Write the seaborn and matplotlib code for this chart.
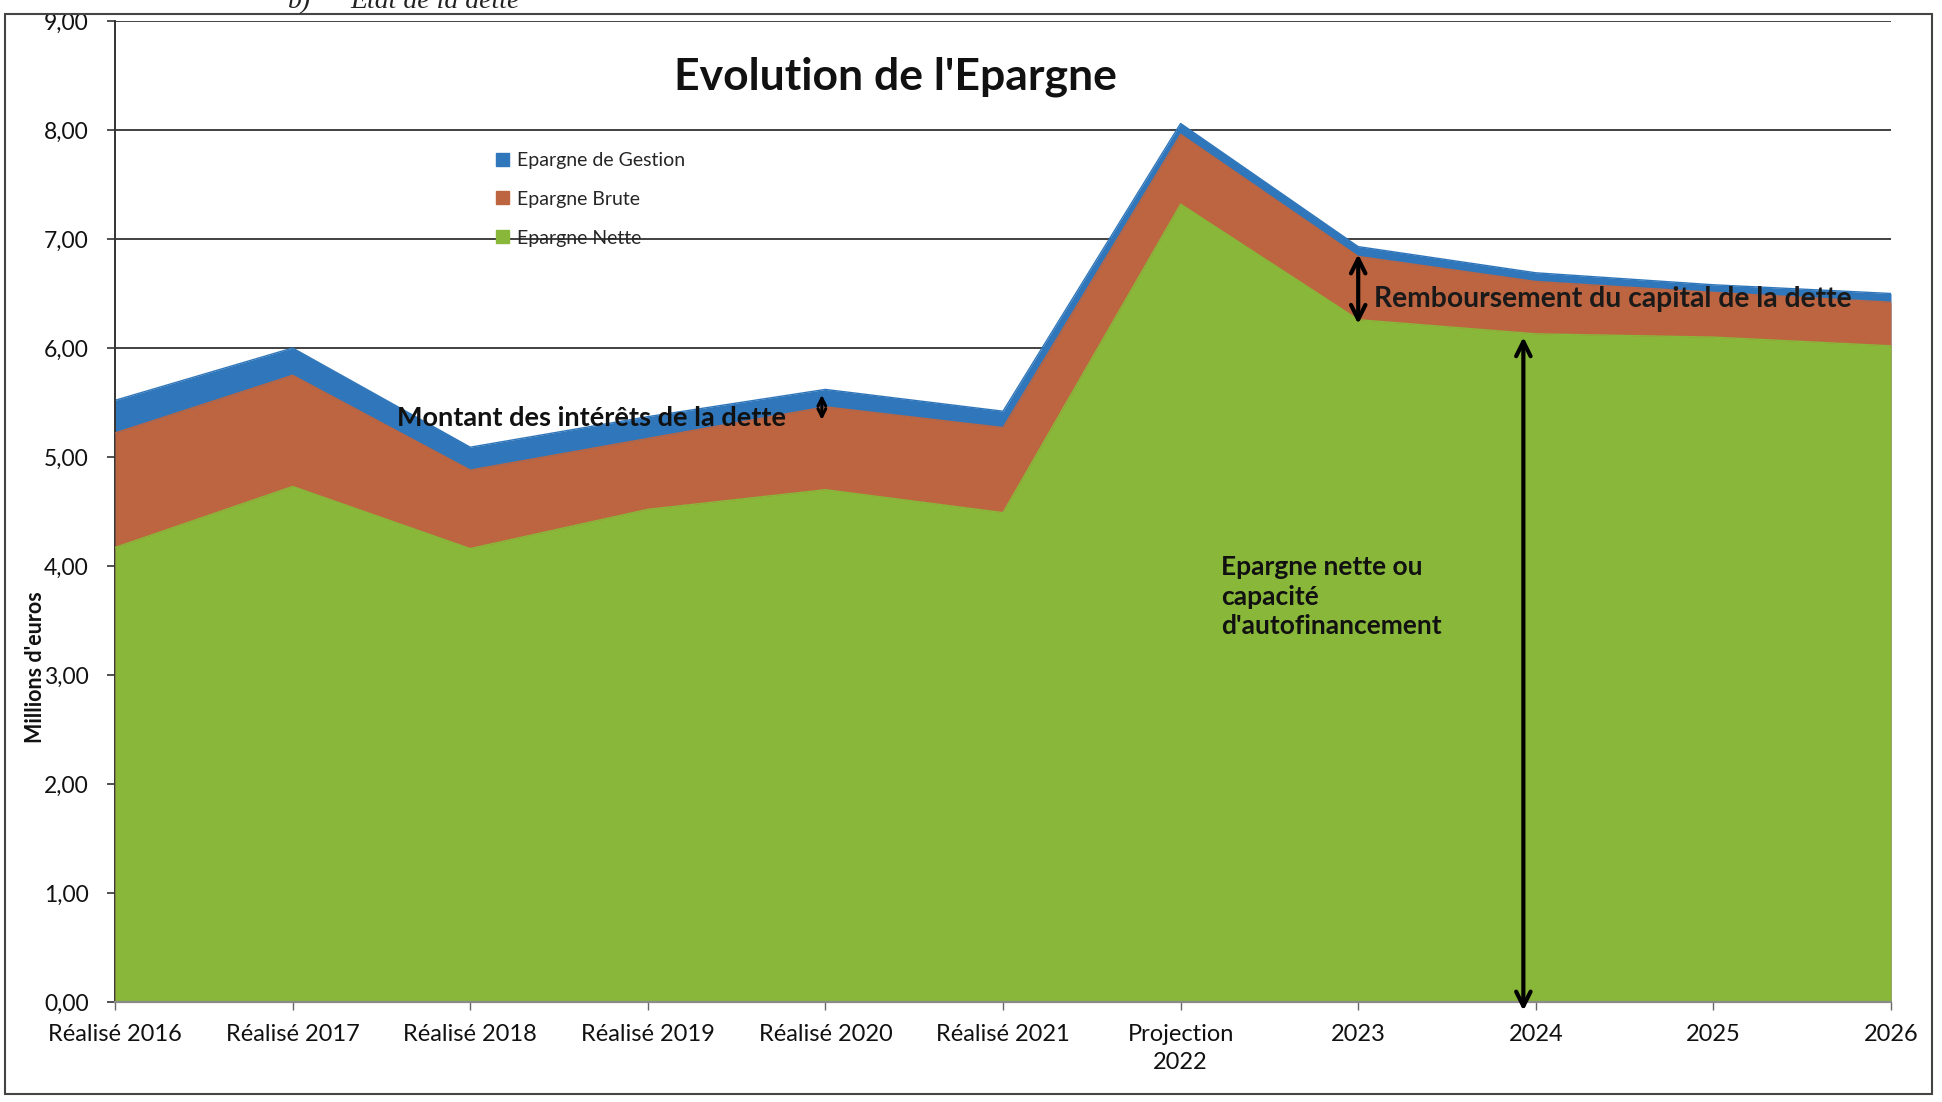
import numpy as np
import pandas as pd
import matplotlib
matplotlib.use("Agg")
import matplotlib.pyplot as plt
import seaborn as sns
from matplotlib.patches import Rectangle, Patch
from matplotlib.ticker import FuncFormatter, FixedLocator

# ---------------- data ----------------
categories = ["Réalisé 2016", "Réalisé 2017", "Réalisé 2018", "Réalisé 2019",
              "Réalisé 2020", "Réalisé 2021", "Projection\n2022", "2023",
              "2024", "2025", "2026"]
epargne_gestion = [5.52, 6.00, 5.09, 5.37, 5.62, 5.42, 8.06, 6.93, 6.69, 6.58, 6.50]
epargne_brute = [5.22, 5.75, 4.88, 5.17, 5.46, 5.27, 7.96, 6.84, 6.61, 6.51, 6.42]
epargne_nette = [4.17, 4.73, 4.16, 4.52, 4.70, 4.49, 7.32, 6.26, 6.13, 6.10, 6.02]
series_labels = ["Epargne de Gestion", "Epargne Brute", "Epargne Nette"]
y_ticks = [0, 1, 2, 3, 4, 5, 6, 7, 8, 9]

# annotation anchors (data values)
interets_range = [5.34, 5.57]
remboursement_range = [6.22, 6.86]
nette_range = [-0.08, 6.10]

# ---------------- style ----------------
sns.set_theme(style="white")
plt.rcParams['font.family'] = ['Lato', 'DejaVu Sans']

BLUE = "#2F76BA"
ORANGE = "#BD6440"
GREEN = "#89B73A"
colors = [BLUE, ORANGE, GREEN]

W, H = 1942, 1102
fig = plt.figure(figsize=(W / 100, H / 100), dpi=100)
fig.patch.set_facecolor("white")
ax = fig.add_axes([115 / W, 1 - 1002 / H, (1891 - 115) / W, (1002 - 21) / H])

df = pd.DataFrame({
    "pos": np.arange(len(categories)),
    "categorie": categories,
    series_labels[0]: epargne_gestion,
    series_labels[1]: epargne_brute,
    series_labels[2]: epargne_nette,
})

for lab, col, z in zip(series_labels, colors, [2, 3, 4]):
    ax.fill_between(df["pos"], 0, df[lab], color=col, lw=0, zorder=z)
    sns.lineplot(data=df, x="pos", y=lab, ax=ax, color=col, lw=1.0,
                 legend=False, zorder=z + 0.1)

ax.set_xlim(0, len(categories) - 1)
ax.set_ylim(0, 9)
ax.xaxis.set_major_locator(FixedLocator(df["pos"].tolist()))
ax.set_xticklabels(categories, fontsize=17, color="#111111", linespacing=1.4)
ax.yaxis.set_major_locator(FixedLocator(y_ticks))
ax.yaxis.set_major_formatter(FuncFormatter(lambda v, p: f"{v:.2f}".replace(".", ",")))
ax.tick_params(axis="y", labelsize=16.5, left=True, length=6, width=1.2,
               color="#333333", direction="out", pad=13, labelcolor="#111111")
ax.tick_params(axis="x", bottom=True, length=6, width=1.0, color="#666666",
               direction="out", pad=10)
ax.set_xlabel("")
ax.set_ylabel("")

ax.set_axisbelow(True)
ax.yaxis.grid(True, color="#333333", lw=1.3, zorder=0)
ax.xaxis.grid(False)
for s in ["top", "right"]:
    ax.spines[s].set_visible(False)
ax.spines["left"].set_color("#333333")
ax.spines["left"].set_linewidth(1.4)
ax.spines["bottom"].set_color("#8a8a8a")
ax.spines["bottom"].set_linewidth(1.6)
ax.spines["bottom"].set_zorder(6)

# ---------------- texts ----------------
fig.text(895 / W, 1 - 77 / H, "Evolution de l'Epargne", fontsize=32,
         fontweight="bold", ha="center", va="center", color="#111111")
fig.text(35 / W, 1 - 667 / H, "Millions d'euros", rotation=90, fontsize=15.5,
         fontweight="bold", ha="center", va="center", color="#111111")

handles = [Patch(facecolor=c, edgecolor=c) for c in colors]
fig.legend(handles, series_labels, loc="upper left",
           bbox_to_anchor=(496 / W, 1 - 152 / H), bbox_transform=fig.transFigure,
           frameon=False, fontsize=14, handlelength=0.65, handleheight=0.65,
           handletextpad=0.45, labelspacing=1.12, borderpad=0, borderaxespad=0)

ax.text(1.59, 5.36, "Montant des intérêts de la dette", fontsize=19.5,
        fontweight="bold", ha="left", va="center", color="#111111", zorder=10)
ax.text(7.09, 6.45, "Remboursement du capital de la dette", fontsize=20.3,
        fontweight="bold", ha="left", va="center", color="#1a1a1a", zorder=10)
ax.text(6.23, 3.72, "Epargne nette ou\ncapacité\nd'autofinancement", fontsize=19,
        fontweight="bold", ha="left", va="center", color="#111111",
        linespacing=1.28, zorder=10)

arrow_kw = dict(arrowstyle="<->", lw=3, color="black", mutation_scale=26,
                shrinkA=0, shrinkB=0)
ax.annotate("", xy=(3.98, interets_range[1]), xytext=(3.98, interets_range[0]),
            arrowprops=dict(arrowstyle="<->", lw=2.2, color="black",
                            mutation_scale=14, shrinkA=0, shrinkB=0),
            annotation_clip=False, zorder=10)
ax.annotate("", xy=(7.0, remboursement_range[1]), xytext=(7.0, remboursement_range[0]),
            arrowprops=arrow_kw, annotation_clip=False, zorder=10)
ax.annotate("", xy=(7.93, nette_range[1]), xytext=(7.93, nette_range[0]),
            arrowprops=arrow_kw, annotation_clip=False, zorder=10)

# heading from the scanned page (partly cut at the top edge, as in the scan)
fig.text(288 / W, 1 - 2 / H, "b)", fontsize=20, style="italic",
         family="Liberation Serif", ha="left", va="center", color="#222222")
fig.text(350 / W, 1 - 2 / H, "Etat de la dette", fontsize=20, style="italic",
         family="Liberation Serif", ha="left", va="center", color="#222222")

# outer chart frame
fig.patches.append(Rectangle((5 / W, 1 - 1094 / H), 1927 / W, 1080 / H,
                             transform=fig.transFigure, fill=False,
                             edgecolor="#444444", lw=1.5))

fig.savefig("out.png", dpi=100, facecolor="white")
